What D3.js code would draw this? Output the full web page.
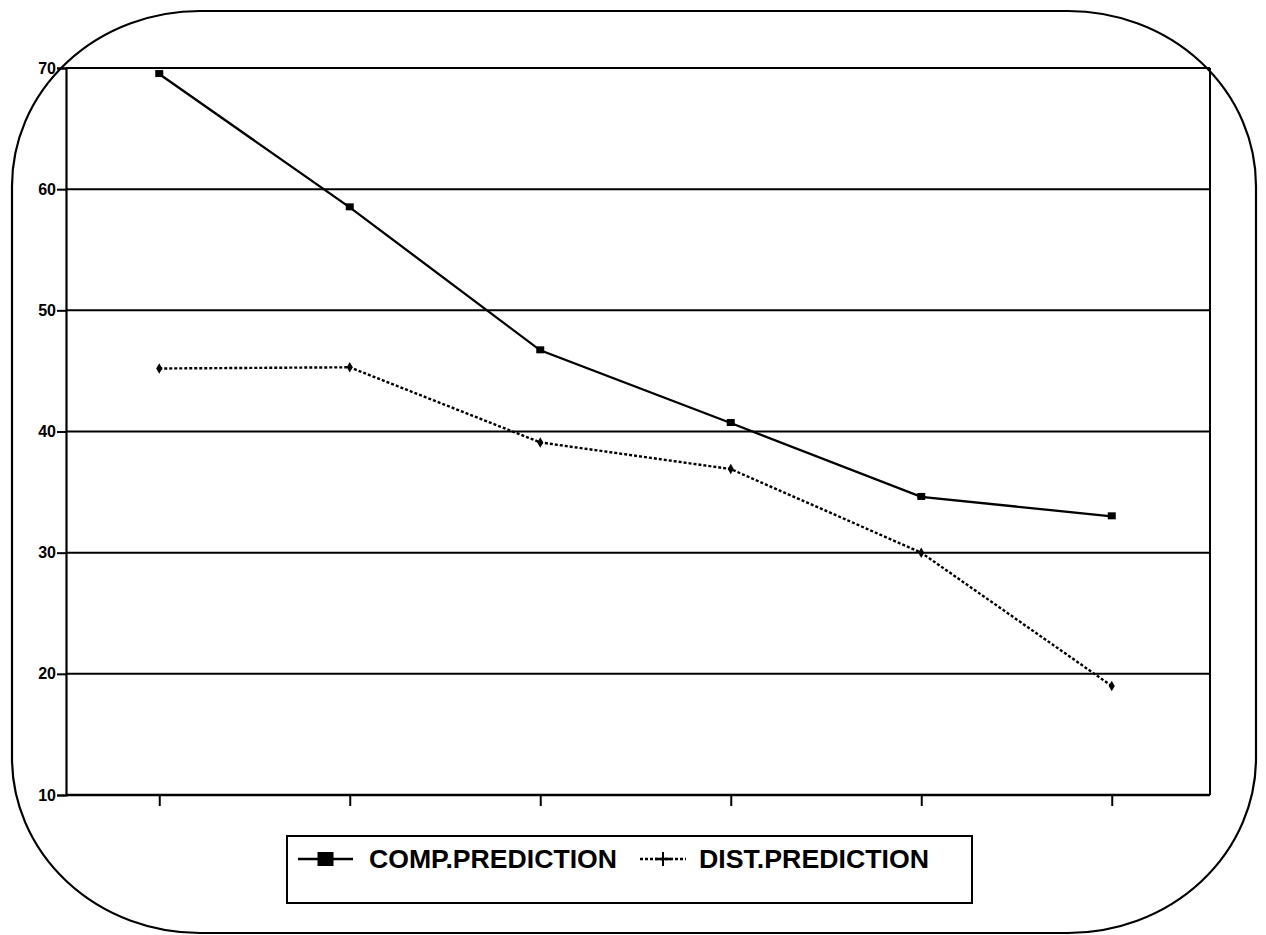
<!DOCTYPE html>
<html>
<head>
<meta charset="utf-8">
<script src="https://cdn.jsdelivr.net/npm/d3@7"></script>
<style>
  html, body { margin: 0; padding: 0; background: #fff; }
  svg { display: block; }
</style>
</head>
<body>
<svg id="chart" width="1266" height="935"></svg>
<script>
// Six successive cases along the horizontal axis (no labels shown)
const categories = ["1", "2", "3", "4", "5", "6"];
const compPrediction = [69.5, 58.5, 46.7, 40.7, 34.6, 33.0];
const distPrediction = [45.2, 45.3, 39.1, 36.9, 30.0, 19.0];
const yTicks = [10, 20, 30, 40, 50, 60, 70];
const seriesNames = ["COMP.PREDICTION", "DIST.PREDICTION"];

const svg = d3.select("#chart");
const ink = "#000";
const font = "Liberation Sans, Arial, sans-serif";

// Rounded outer frame
svg.append("rect")
  .attr("x", 12).attr("y", 11)
  .attr("width", 1244).attr("height", 922)
  .attr("rx", 188).attr("ry", 175)
  .attr("fill", "none").attr("stroke", ink).attr("stroke-width", 2.2);

const plot = { left: 66, right: 1210, top: 68, bottom: 795 };

const x = d3.scalePoint()
  .domain(categories)
  .range([64, 1207])
  .padding(0.5);

const y = d3.scaleLinear()
  .domain([10, 70])
  .range([plot.bottom, plot.top]);

// Horizontal gridlines
svg.append("g")
  .selectAll("line")
  .data(yTicks)
  .join("line")
  .attr("x1", plot.left).attr("x2", plot.right)
  .attr("y1", d => y(d)).attr("y2", d => y(d))
  .attr("stroke", ink).attr("stroke-width", 2);

// Right border of the plot area
svg.append("line")
  .attr("x1", plot.right).attr("x2", plot.right)
  .attr("y1", plot.top).attr("y2", plot.bottom)
  .attr("stroke", ink).attr("stroke-width", 2);

// Y axis
const yAxis = svg.append("g")
  .attr("transform", `translate(${plot.left},0)`)
  .call(d3.axisLeft(y).tickValues(yTicks).tickSize(9).tickPadding(1).tickFormat(d3.format("d")));
yAxis.select(".domain").attr("stroke", ink).attr("stroke-width", 2.2);
yAxis.selectAll(".tick line").attr("stroke", ink).attr("stroke-width", 2);
yAxis.selectAll(".tick text")
  .attr("font-family", font)
  .attr("font-size", 16).attr("font-weight", "bold").attr("fill", ink);

// X axis: ticks only, no labels
const xAxis = svg.append("g")
  .attr("transform", `translate(0,${plot.bottom})`)
  .call(d3.axisBottom(x).tickSize(11).tickFormat(""));
xAxis.select(".domain").remove();
xAxis.selectAll(".tick line").attr("stroke", ink).attr("stroke-width", 2);
svg.append("line")
  .attr("x1", plot.left).attr("x2", plot.right)
  .attr("y1", plot.bottom).attr("y2", plot.bottom)
  .attr("stroke", ink).attr("stroke-width", 2.5);

const line = d3.line()
  .x((d, i) => x(categories[i]))
  .y(d => y(d));

// COMP.PREDICTION: solid line with square markers
svg.append("path")
  .datum(compPrediction)
  .attr("d", line)
  .attr("fill", "none").attr("stroke", ink).attr("stroke-width", 2.3);
svg.append("g")
  .selectAll("rect")
  .data(compPrediction)
  .join("rect")
  .attr("x", (d, i) => x(categories[i]) - 4)
  .attr("y", d => y(d) - 4)
  .attr("width", 8).attr("height", 7)
  .attr("fill", ink);

// DIST.PREDICTION: dotted line with small markers
svg.append("path")
  .datum(distPrediction)
  .attr("d", line)
  .attr("fill", "none").attr("stroke", ink).attr("stroke-width", 2.4)
  .attr("stroke-dasharray", "3,2");
const markSym = d3.symbol().type(d3.symbolDiamond).size(32);
svg.append("g")
  .selectAll("path")
  .data(distPrediction)
  .join("path")
  .attr("transform", (d, i) => `translate(${x(categories[i])},${y(d)})`)
  .attr("d", markSym)
  .attr("fill", ink);

// Legend
const legend = svg.append("g");
legend.append("rect")
  .attr("x", 287).attr("y", 836)
  .attr("width", 685).attr("height", 67)
  .attr("fill", "#fff").attr("stroke", ink).attr("stroke-width", 2);

const legendY = 859;
const legendItems = [
  { name: seriesNames[0], x0: 298, x1: 353, dash: null, text: 369, len: 248 },
  { name: seriesNames[1], x0: 640, x1: 686, dash: "3,2", text: 699, len: 230 }
];
legendItems.forEach((it, k) => {
  legend.append("line")
    .attr("x1", it.x0).attr("x2", it.x1)
    .attr("y1", legendY).attr("y2", legendY)
    .attr("stroke", ink).attr("stroke-width", 2.5)
    .attr("stroke-dasharray", it.dash);
  const mid = (it.x0 + it.x1) / 2;
  if (k === 0) {
    legend.append("rect")
      .attr("x", mid - 8).attr("y", legendY - 7)
      .attr("width", 16).attr("height", 14).attr("fill", ink);
  } else {
    legend.append("line")
      .attr("x1", mid).attr("x2", mid)
      .attr("y1", legendY - 7).attr("y2", legendY + 7)
      .attr("stroke", ink).attr("stroke-width", 2);
    legend.append("line")
      .attr("x1", mid - 8).attr("x2", mid + 8)
      .attr("y1", legendY).attr("y2", legendY)
      .attr("stroke", ink).attr("stroke-width", 2.5);
  }
  legend.append("text")
    .attr("x", it.text).attr("y", legendY + 9)
    .attr("font-family", font)
    .attr("font-size", 25).attr("font-weight", "bold")
    .attr("textLength", it.len).attr("lengthAdjust", "spacingAndGlyphs")
    .attr("fill", ink)
    .text(it.name);
});
</script>
</body>
</html>
